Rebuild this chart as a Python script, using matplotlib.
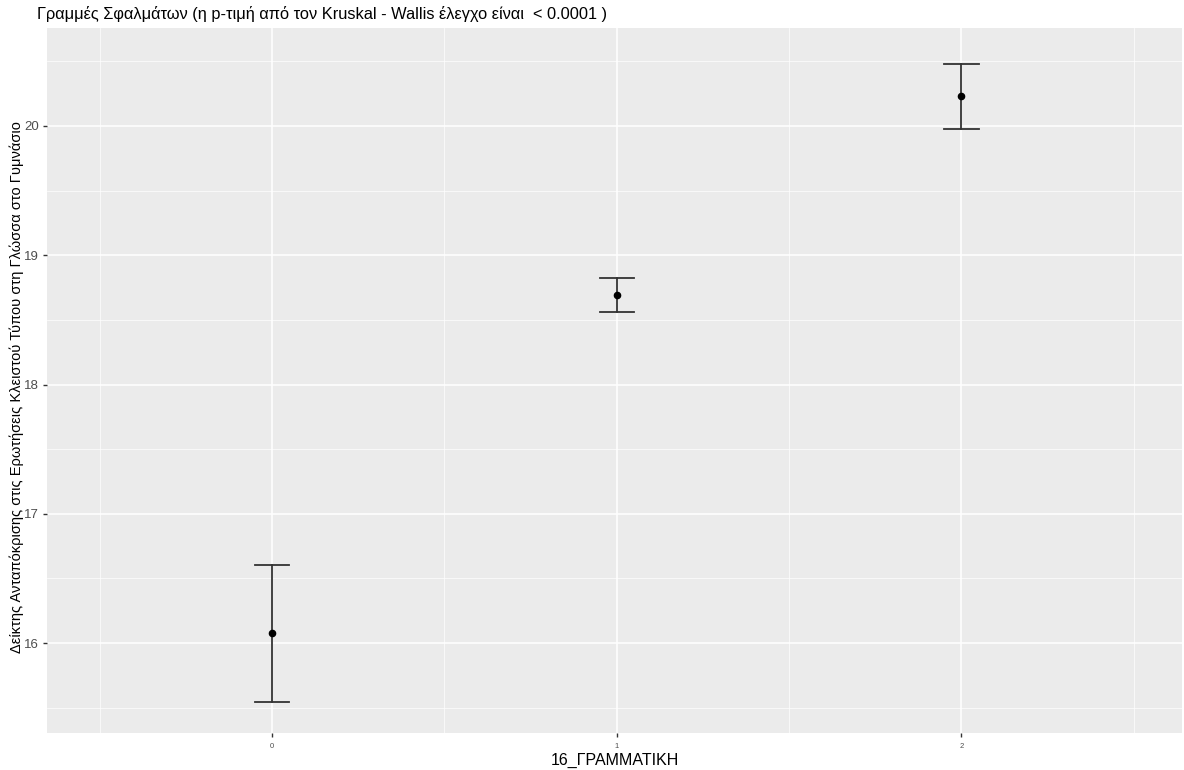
import numpy as np
import matplotlib.pyplot as plt
from matplotlib.ticker import MultipleLocator

# values
groups = [0, 1, 2]
means = [16.077, 18.69, 20.232]
lower = [15.544, 18.559, 19.977]
upper = [16.603, 18.822, 20.48]
tick_labels = ["0", "1", "2"]

plt.rcParams['font.family'] = ['Liberation Sans', 'DejaVu Sans']

fig = plt.figure(figsize=(11.84, 7.7), dpi=100)
ax = fig.add_axes([47 / 1184, 37 / 770, 1135 / 1184, 705 / 770])
ax.set_facecolor('#EBEBEB')
for s in ax.spines.values():
    s.set_visible(False)

x = np.array(groups, dtype=float)
m = np.array(means)
cap_half = 0.05
for xi, lo, hi in zip(x, lower, upper):
    ax.plot([xi, xi], [lo, hi], color='#333333', lw=1.3, zorder=3)
    ax.plot([xi - cap_half, xi + cap_half], [lo, lo], color='#333333', lw=1.3, zorder=3)
    ax.plot([xi - cap_half, xi + cap_half], [hi, hi], color='#333333', lw=1.3, zorder=3)
ax.scatter(x, m, s=20, color='black', zorder=4)

ax.set_xlim(-0.653, 2.64)
ax.set_ylim(15.304, 20.758)
ax.set_xticks(x)
ax.set_xticklabels(tick_labels)
ax.set_xticks([-0.5, 0.5, 1.5, 2.5], minor=True)
ax.yaxis.set_major_locator(MultipleLocator(1))
ax.set_yticks([15.5, 16.5, 17.5, 18.5, 19.5, 20.5], minor=True)

ax.grid(which='major', color='white', lw=1.1)
ax.grid(which='minor', color='white', lw=0.5)
ax.set_axisbelow(True)
ax.tick_params(axis='both', which='major', length=3, width=1, color='#333333',
               colors='#4D4D4D')
ax.tick_params(axis='x', which='major', labelsize=5.5, pad=4)
ax.tick_params(axis='y', which='major', labelsize=9.5, pad=3)
ax.tick_params(which='minor', length=0)

ax.set_xlabel("16_ΓΡΑΜΜΑΤΙΚΗ", fontsize=11.5, labelpad=2)
ax.set_ylabel("Δείκτης Ανταπόκρισης στις Ερωτήσεις Κλειστού Τύπου στη Γλώσσα στο Γυμνάσιο",
              fontsize=10.5)
ax.yaxis.set_label_coords(-0.0205, 0.49)
fig.text(37 / 1184, 1 - 14 / 770,
         "Γραμμές Σφαλμάτων (η p-τιμή από τον Kruskal - Wallis έλεγχο είναι  < 0.0001 )",
         fontsize=11.8, va='center', ha='left')

fig.savefig("out.png", dpi=100)
